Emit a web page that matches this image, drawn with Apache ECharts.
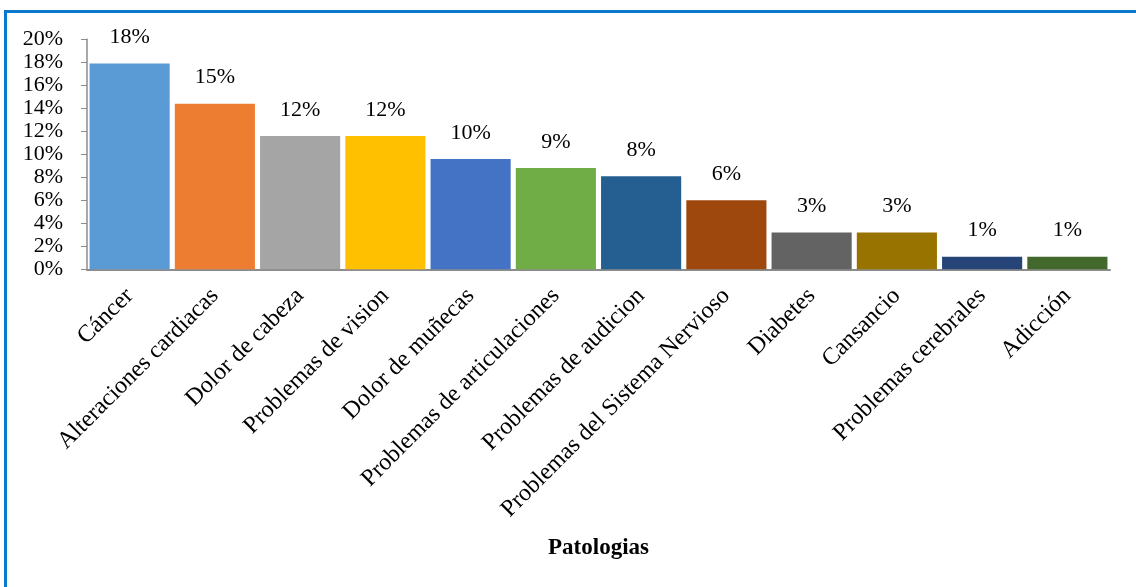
<!DOCTYPE html>
<html>
<head>
<meta charset="utf-8">
<script src="https://cdn.jsdelivr.net/npm/echarts@6/dist/echarts.min.js"></script>
<style>
  html, body { margin: 0; padding: 0; background: #fff; }
  #frame { position: absolute; left: 4px; top: 10px; width: 1200px; height: 700px;
           border-left: 3px solid #0a78cc; border-top: 3px solid #0a78cc; box-sizing: border-box; }
  #chart { position: absolute; left: 0; top: 0; width: 1136px; height: 587px; }
</style>
</head>
<body>
<div id="frame"></div>
<div id="chart"></div>
<script>
const categories = ['Cáncer', 'Alteraciones cardiacas', 'Dolor de cabeza', 'Problemas de vision',
  'Dolor de muñecas', 'Problemas de articulaciones', 'Problemas de audicion',
  'Problemas del Sistema Nervioso', 'Diabetes', 'Cansancio', 'Problemas cerebrales', 'Adicción'];
const values = [17.9, 14.4, 11.6, 11.6, 9.6, 8.8, 8.1, 6.0, 3.2, 3.2, 1.1, 1.1];
const valueLabels = ['18%', '15%', '12%', '12%', '10%', '9%', '8%', '6%', '3%', '3%', '1%', '1%'];
const yTicks = [0, 2, 4, 6, 8, 10, 12, 14, 16, 18, 20];
const palette = ['#5B9BD5', '#ED7D31', '#A5A5A5', '#FFC000', '#4472C4', '#70AD47',
  '#255E91', '#9E480E', '#636363', '#997300', '#264478', '#43682B'];

const font = 'Liberation Serif';
const chart = echarts.init(document.getElementById('chart'));
chart.setOption({
  animation: false,
  backgroundColor: 'transparent',
  grid: { left: 87, right: 26, top: 39.3, bottom: 317.7 },
  xAxis: {
    type: 'category',
    data: categories,
    name: 'Patologias',
    nameLocation: 'middle',
    nameGap: 267,
    nameTextStyle: { fontFamily: font, fontSize: 23, fontWeight: 'bold', color: '#000' },
    axisLine: { lineStyle: { color: '#8c8c8c', width: 2 } },
    axisTick: { show: false },
    axisLabel: { rotate: 45, interval: 0, margin: 23, fontFamily: font, fontSize: 24, color: '#000' }
  },
  yAxis: {
    type: 'value',
    min: yTicks[0],
    max: yTicks[yTicks.length - 1],
    interval: 2,
    axisLine: { show: true, lineStyle: { color: '#8c8c8c', width: 1.5 } },
    axisTick: { show: true, length: 6, lineStyle: { color: '#8c8c8c' } },
    splitLine: { show: false },
    axisLabel: { formatter: '{value}%', margin: 24, fontFamily: font, fontSize: 22, color: '#000' }
  },
  series: [{
    type: 'bar',
    barCategoryGap: '6%',
    data: values.map((v, i) => ({ value: v, itemStyle: { color: palette[i] } })),
    label: {
      show: true,
      position: 'top',
      distance: 15,
      fontFamily: font,
      fontSize: 22,
      color: '#000',
      formatter: p => valueLabels[p.dataIndex]
    }
  }]
});
</script>
</body>
</html>
